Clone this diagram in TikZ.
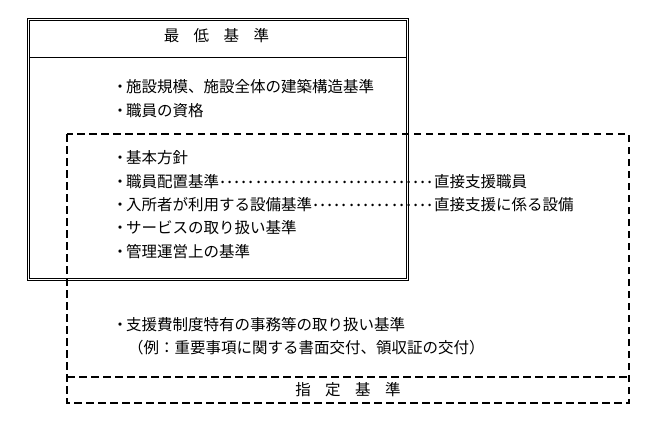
\documentclass[tikz,border=0pt]{standalone}
\usepackage{fontspec}
\usepackage{graphicx}
\setmainfont{Noto Sans CJK JP}
\newcommand\bul{\makebox[12pt][c]{・}}
\newcommand\dotlead{\xleaders\hbox to 7pt{\hss\raisebox{0.3em}{\scalebox{1.2}{.}}\hss}\hfill}
\begin{document}
\begin{tikzpicture}[x=1pt,y=-1pt,
  txt/.style={anchor=west,inner sep=0pt,font=\fontsize{15.5pt}{18pt}\selectfont},
  ctxt/.style={inner sep=0pt,font=\fontsize{15.5pt}{18pt}\selectfont},
  solidframe/.style={draw=black,double=white,line width=0.8pt,double distance=1.8pt},
  dashframe/.style={draw=black,line width=2.2pt,dash pattern=on 7.5pt off 4.5pt}]
\useasboundingbox (0,0) rectangle (657,423);
% minimum standards box
\draw[solidframe] (28.5,56.3) -- (407.5,56.3);
\draw[solidframe] (28.5,19.5) rectangle (407.5,279.5);
% designation standards box
\draw[dashframe] (67,134) rectangle (629,403);
\draw[dashframe] (67,377) -- (629,377);
% texts
\node[ctxt] (t0) at (216.5,36) {最\hspace{14.5pt}低\hspace{14.5pt}基\hspace{14.5pt}準};
\node[txt] (t1) at (114,87) {\bul 施設規模、施設全体の建築構造基準};
\node[txt] (t2) at (114,111) {\bul 職員の資格};
\node[txt] (t3) at (114,158) {\bul 基本方針};
\node[txt] (t4) at (114,182) {\makebox[320pt][l]{\bul 職員配置基準\dotlead}直接支援職員};
\node[txt] (t5) at (114,205) {\makebox[320pt][l]{\bul 入所者が利用する設備基準\dotlead}直接支援に係る設備};
\node[txt] (t6) at (114,228) {\bul サービスの取り扱い基準};
\node[txt] (t7) at (114,252) {\bul 管理運営上の基準};
\node[txt] (t8) at (114,325) {\bul 支援費制度特有の事務等の取り扱い基準};
\node[txt] (t9) at (128,348) {（例：重要事項に関する書面交付、領収証の交付）};
\node[ctxt] (t10) at (348,390) {指\hspace{14.5pt}定\hspace{14.5pt}基\hspace{14.5pt}準};
\end{tikzpicture}
\end{document}
